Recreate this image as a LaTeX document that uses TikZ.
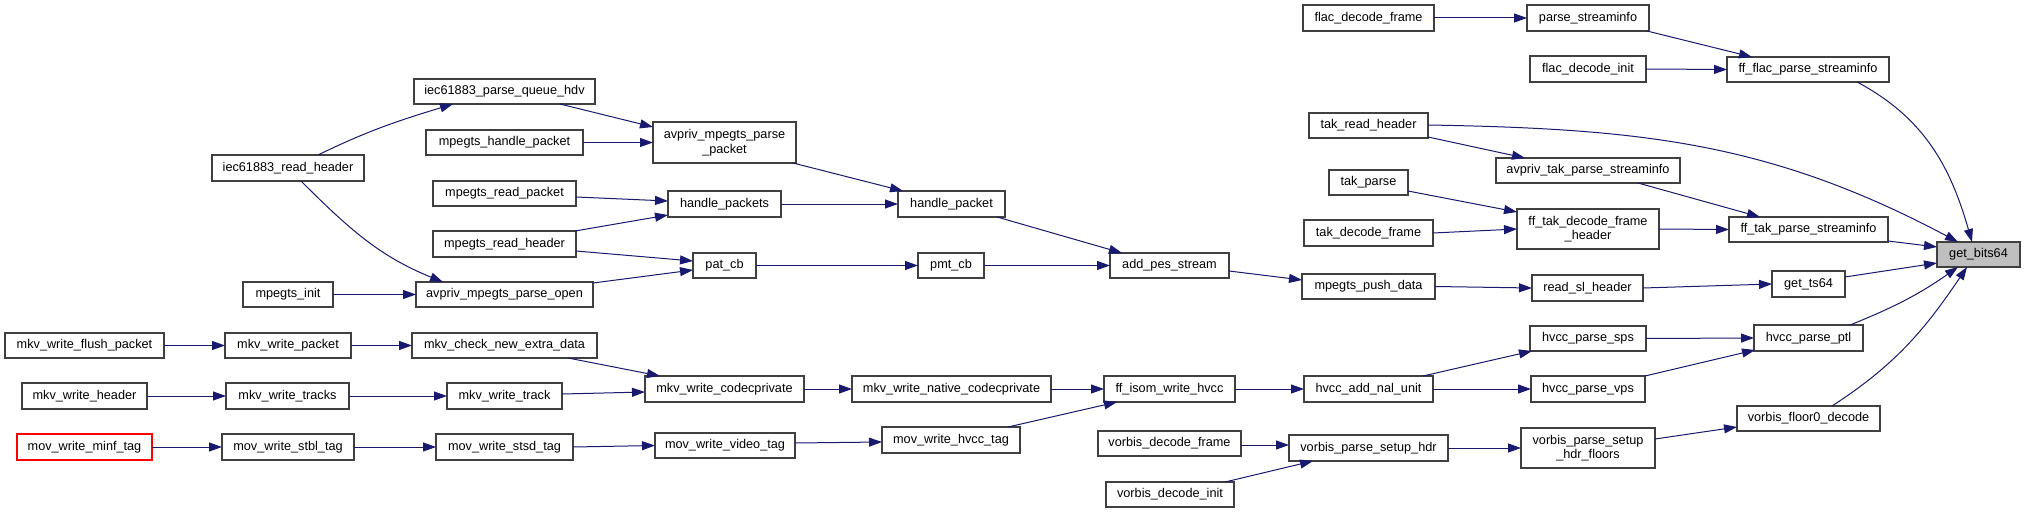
\documentclass[tikz,border=0pt]{standalone}
\usepackage{fontspec}
\setmainfont{Liberation Sans}
\usetikzlibrary{arrows.meta}
\definecolor{edgec}{RGB}{25,25,112}
\definecolor{brd}{RGB}{64,64,64}
\definecolor{hl}{RGB}{191,191,191}
\tikzset{
 box/.style={draw=brd, line width=1.2pt, fill=white, inner sep=0pt, outer sep=0pt,
   font=\fontsize{12.7}{14.5}\selectfont, align=center},
 e/.style={draw=edgec, line width=1pt, -{Triangle[length=13pt,width=9pt]}},
}
\newcommand\bx[7][]{\node[box,minimum width={(#5-#3)*1pt},minimum height={(#6-#4)*1pt},#1] (#2) at ({(#3+#5)/2},{(#4+#6)/2}) {#7};}
\begin{document}
\begin{tikzpicture}[x=1pt,y=-1pt]
\useasboundingbox[fill=white] (0,0) rectangle (2025,513);
\bx{iecrh}{212}{155}{364}{181}{iec61883\_read\_header}
\bx{pqh}{414}{79}{595}{104}{iec61883\_parse\_queue\_hdv}
\bx{mhp}{426}{130}{583}{155}{mpegts\_handle\_packet}
\bx{ppk}{653}{122}{796}{163}{avpriv\_mpegts\_parse\\\_packet}
\bx{mrp}{433}{181}{576}{206}{mpegts\_read\_packet}
\bx{mrh}{433}{231}{576}{257}{mpegts\_read\_header}
\bx{hps}{668}{191}{781}{217}{handle\_packets}
\bx{hp}{898}{191}{1005}{217}{handle\_packet}
\bx{minit}{243}{282}{333}{307}{mpegts\_init}
\bx{popen}{416}{282}{593}{307}{avpriv\_mpegts\_parse\_open}
\bx{pat}{693}{253}{756}{278}{pat\_cb}
\bx{pmt}{918}{253}{984}{278}{pmt\_cb}
\bx{aps}{1110}{253}{1229}{278}{add\_pes\_stream}
\bx{mpd}{1302}{274}{1435}{299}{mpegts\_push\_data}
\bx{rsl}{1532}{275}{1643}{301}{read\_sl\_header}
\bx{gts}{1772}{271}{1845}{297}{get\_ts64}
\bx[fill=hl]{gb}{1937}{242}{2020}{267}{get\_bits64}
\bx{mwfp}{5}{333}{164}{358}{mkv\_write\_flush\_packet}
\bx{mwp}{225}{333}{351}{358}{mkv\_write\_packet}
\bx{mcne}{412}{333}{597}{358}{mkv\_check\_new\_extra\_data}
\bx{mwh}{22}{383}{147}{409}{mkv\_write\_header}
\bx{mwts}{226}{383}{349}{409}{mkv\_write\_tracks}
\bx{mwt}{447}{383}{562}{409}{mkv\_write\_track}
\bx{mwc}{645}{376}{804}{402}{mkv\_write\_codecprivate}
\bx{mwnc}{852}{376}{1051}{402}{mkv\_write\_native\_codecprivate}
\bx{fiwh}{1104}{376}{1235}{402}{ff\_isom\_write\_hvcc}
\bx{hanu}{1304}{376}{1433}{402}{hvcc\_add\_nal\_unit}
\bx{hsps}{1530}{326}{1646}{351}{hvcc\_parse\_sps}
\bx{hvps}{1531}{376}{1645}{402}{hvcc\_parse\_vps}
\bx{ptl}{1754}{325}{1863}{351}{hvcc\_parse\_ptl}
\bx[draw=red]{minf}{17}{434}{152}{460}{mov\_write\_minf\_tag}
\bx{stbl}{222}{434}{354}{460}{mov\_write\_stbl\_tag}
\bx{stsd}{436}{434}{573}{460}{mov\_write\_stsd\_tag}
\bx{mwvt}{655}{433}{795}{458}{mov\_write\_video\_tag}
\bx{mwht}{882}{427}{1020}{453}{mov\_write\_hvcc\_tag}
\bx{vdf}{1098}{431}{1241}{456}{vorbis\_decode\_frame}
\bx{vpsh}{1289}{435}{1448}{461}{vorbis\_parse\_setup\_hdr}
\bx{vdi}{1106}{482}{1234}{507}{vorbis\_decode\_init}
\bx{vpshf}{1521}{428}{1655}{468}{vorbis\_parse\_setup\\\_hdr\_floors}
\bx{vf0}{1737}{406}{1880}{431}{vorbis\_floor0\_decode}
\bx{fdf}{1303}{5}{1434}{31}{flac\_decode\_frame}
\bx{psi}{1527}{5}{1649}{31}{parse\_streaminfo}
\bx{fdi}{1530}{56}{1646}{82}{flac\_decode\_init}
\bx{ffps}{1727}{57}{1889}{82}{ff\_flac\_parse\_streaminfo}
\bx{trh}{1309}{113}{1428}{138}{tak\_read\_header}
\bx{tp}{1329}{170}{1408}{195}{tak\_parse}
\bx{tdf}{1304}{220}{1433}{246}{tak\_decode\_frame}
\bx{atps}{1496}{158}{1680}{183}{avpriv\_tak\_parse\_streaminfo}
\bx{ftdf}{1517}{209}{1659}{249}{ff\_tak\_decode\_frame\\\_header}
\bx{ftps}{1729}{217}{1888}{242}{ff\_tak\_parse\_streaminfo}
% edges
\draw[e] ([shift={(106,0)}]iecrh.north west) to[out=26,in=197] ([shift={(39,25)}]pqh.north west);
\draw[e] ([shift={(89,26)}]iecrh.north west) to[out=-45,in=158] ([shift={(27,0)}]popen.north west);
\draw[e] ([shift={(146,25)}]pqh.north west) -- ([shift={(0,5)}]ppk.north west);
\draw[e] (mhp.east) -- (ppk.west);
\draw[e] ([shift={(140,41)}]ppk.north west) -- ([shift={(5,0)}]hp.north west);
\draw[e] ([shift={(143,16)}]mrp.north west) -- ([shift={(0,10)}]hps.north west);
\draw[e] ([shift={(142,0)}]mrh.north west) -- ([shift={(0,24)}]hps.north west);
\draw[e] ([shift={(143,20)}]mrh.north west) -- ([shift={(0,8)}]pat.north west);
\draw[e] (hps.east) -- (hp.west);
\draw[e] ([shift={(99,26)}]hp.north west) -- ([shift={(12,0)}]aps.north west);
\draw[e] (minit.east) -- (popen.west);
\draw[e] ([shift={(177,1)}]popen.north west) -- ([shift={(0,17)}]pat.north west);
\draw[e] (pat.east) -- (pmt.west);
\draw[e] (pmt.east) -- (aps.west);
\draw[e] ([shift={(119,18)}]aps.north west) -- ([shift={(0,6)}]mpd.north west);
\draw[e] (mpd.east) -- (rsl.west);
\draw[e] (rsl.east) -- (gts.west);
\draw[e] ([shift={(73,6)}]gts.north west) -- ([shift={(0,21)}]gb.north west);
\draw[e] (mwfp.east) -- (mwp.west);
\draw[e] (mwp.east) -- (mcne.west);
\draw[e] ([shift={(156,25)}]mcne.north west) -- ([shift={(15,0)}]mwc.north west);
\draw[e] (mwh.east) -- (mwts.west);
\draw[e] (mwts.east) -- (mwt.west);
\draw[e] ([shift={(115,11)}]mwt.north west) -- ([shift={(0,16)}]mwc.north west);
\draw[e] (mwc.east) -- (mwnc.west);
\draw[e] (mwnc.east) -- (fiwh.west);
\draw[e] (minf.east) -- (stbl.west);
\draw[e] (stbl.east) -- (stsd.west);
\draw[e] (stsd.east) -- (mwvt.west);
\draw[e] ([shift={(140,10)}]mwvt.north west) -- ([shift={(0,15)}]mwht.north west);
\draw[e] ([shift={(126,0)}]mwht.north west) -- ([shift={(13,26)}]fiwh.north west);
\draw[e] (fiwh.east) -- (hanu.west);
\draw[e] ([shift={(119,0)}]hanu.north west) -- ([shift={(2,25)}]hsps.north west);
\draw[e] (hanu.east) -- (hvps.west);
\draw[e] (hsps.east) -- (ptl.west);
\draw[e] ([shift={(114,0)}]hvps.north west) -- ([shift={(1,25)}]ptl.north west);
\draw[e] ([shift={(96,0)}]ptl.north west) to[out=22,in=215] ([shift={(21,25)}]gb.north west);
\draw[e] ([shift={(143,14)}]vdf.north west) -- ([shift={(0,10)}]vpsh.north west);
\draw[e] ([shift={(119,0)}]vdi.north west) -- ([shift={(24,26)}]vpsh.north west);
\draw[e] (vpsh.east) -- (vpshf.west);
\draw[e] ([shift={(134,11)}]vpshf.north west) -- ([shift={(0,21)}]vf0.north west);
\draw[e] ([shift={(95,0)}]vf0.north west) to[out=33,in=236] ([shift={(30,25)}]gb.north west);
\draw[e] (fdf.east) -- (psi.west);
\draw[e] ([shift={(120,26)}]psi.north west) -- ([shift={(25,0)}]ffps.north west);
\draw[e] (fdi.east) -- (ffps.west);
\draw[e] ([shift={(130,25)}]ffps.north west) to[out=-28,in=106] ([shift={(35,0)}]gb.north west);
\draw[e] ([shift={(119,12)}]trh.north west) to[out=-1,in=152] ([shift={(21,0)}]gb.north west);
\draw[e] ([shift={(119,24)}]trh.north west) -- ([shift={(29,0)}]atps.north west);
\draw[e] ([shift={(79,21)}]tp.north west) -- ([shift={(0,3)}]ftdf.north west);
\draw[e] (tdf.east) -- (ftdf.west);
\draw[e] ([shift={(142,25)}]atps.north west) -- ([shift={(31,0)}]ftps.north west);
\draw[e] (ftdf.east) -- (ftps.west);
\draw[e] ([shift={(159,24)}]ftps.north west) -- ([shift={(0,5)}]gb.north west);
\end{tikzpicture}
\end{document}
